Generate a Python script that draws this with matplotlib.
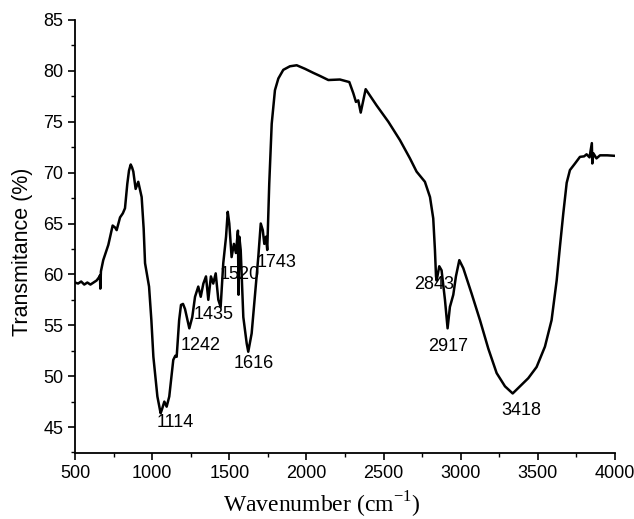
import matplotlib
matplotlib.use("Agg")
import matplotlib.pyplot as plt
from matplotlib.ticker import MultipleLocator

plt.rcParams['font.family'] = ['Liberation Sans', 'DejaVu Sans']
plt.rcParams['mathtext.fontset'] = 'custom'
plt.rcParams['mathtext.rm'] = 'Liberation Serif'

# FTIR spectrum
wavenumber = [500, 520, 540, 560, 580, 600, 620, 640, 655, 662, 664, 668, 683, 716, 744,
              760, 770, 792, 810, 824, 839, 850, 861, 870, 878, 893, 910, 932, 945, 954,
              980, 995, 1008, 1034, 1055, 1065, 1079, 1094, 1111, 1137, 1150, 1159, 1175,
              1187, 1200, 1213, 1241, 1260, 1278, 1299, 1315, 1332, 1349, 1364, 1381, 1396,
              1412, 1429, 1444, 1461, 1479, 1490, 1500, 1515, 1530, 1543, 1556, 1560, 1565,
              1574, 1591, 1613, 1623, 1645, 1667, 1688, 1704, 1717, 1727, 1738, 1746, 1759,
              1775, 1796, 1818, 1850, 1893, 1937, 1991, 2045, 2088, 2142, 2217, 2278, 2304,
              2321, 2336, 2352, 2384, 2455, 2531, 2606, 2671, 2714, 2768, 2801, 2822, 2833,
              2840, 2844, 2861, 2876, 2898, 2915, 2930, 2952, 2969, 2991, 3017, 3071, 3125,
              3179, 3233, 3287, 3337, 3384, 3438, 3492, 3546, 3589, 3622, 3643, 3665, 3687,
              3708, 3741, 3773, 3800, 3816, 3835, 3850, 3853, 3860, 3880, 3903, 3950, 4000]
transmittance = [59.2, 59.1, 59.3, 59.0, 59.2, 59.0, 59.2, 59.4, 59.7, 59.9, 58.6, 60.3, 61.4, 62.9, 64.8,
                 64.6, 64.35, 65.6, 66.0, 66.5, 68.9, 70.2, 70.8, 70.5, 70.1, 68.4, 69.1, 67.6, 64.5, 61.1,
                 58.8, 55.5, 51.9, 48.0, 46.35, 46.8, 47.5, 47.0, 48.0, 51.6, 52.0, 51.9, 55.5,
                 57.0, 57.1, 56.6, 54.7, 55.8, 57.8, 58.8, 57.8, 59.1, 59.8, 57.5, 59.8, 59.1,
                 60.1, 57.5, 56.8, 61.1, 63.7, 66.15, 65.0, 61.7, 63.0, 62.1, 64.3, 58.0, 63.7,
                 62.4, 55.8, 53.2, 52.4, 54.2, 58.1, 61.7, 65.0, 64.35, 63.0, 63.7, 62.4, 68.9,
                 74.8, 78.1, 79.25, 80.1, 80.45, 80.55, 80.2, 79.8, 79.5, 79.1, 79.15, 78.9, 77.8,
                 76.95, 77.1, 75.9, 78.2, 76.6, 75.0, 73.2, 71.4, 70.1, 69.1, 67.6, 65.5, 62.4,
                 59.8, 59.4, 60.8, 60.4, 57.5, 54.7, 56.8, 58.0, 59.8, 61.4, 60.6, 58.1, 55.5,
                 52.7, 50.3, 49.0, 48.3, 49.0, 49.8, 50.9, 52.9, 55.5, 59.4, 62.7, 66.0, 69.0,
                 70.25, 70.9, 71.55, 71.6, 71.8, 71.5, 72.9, 70.9, 71.9, 71.4, 71.7, 71.7, 71.65]

# peak labels and where they sit
peak_text = ['1114', '1242', '1435', '1520', '1743', '1616', '2843', '2917', '3418']
peak_x = [1148, 1317, 1401, 1569, 1809, 1660, 2827, 2917, 3391]
peak_y = [45.4, 53.05, 56.1, 60.0, 61.2, 51.2, 59.05, 52.95, 46.6]

fig = plt.figure(figsize=(6.34, 5.19), dpi=100)
ax = fig.add_axes([0.1183, 0.1272, 0.8517, 0.8343])

ax.plot(wavenumber, transmittance, color='black', lw=1.8)

for t, x, y in zip(peak_text, peak_x, peak_y):
    ax.text(x, y, t, ha='center', va='center', fontsize=13)

ax.set_xlim(500, 4000)
ax.set_ylim(42.45, 85)
ax.xaxis.set_major_locator(MultipleLocator(500))
ax.xaxis.set_minor_locator(MultipleLocator(250))
ax.yaxis.set_major_locator(MultipleLocator(5))
ax.yaxis.set_minor_locator(MultipleLocator(2.5))
ax.set_yticks(range(45, 90, 5))
ax.tick_params(which='major', direction='out', length=5, width=1.2, labelsize=13)
ax.tick_params(which='minor', direction='out', length=3, width=1)

for s in ['top', 'right']:
    ax.spines[s].set_visible(False)
for s in ['left', 'bottom']:
    ax.spines[s].set_linewidth(1.3)

ax.set_ylabel('Transmitance (%)', fontsize=15.5)
ax.yaxis.set_label_coords(-0.078, 0.464)
ax.set_xlabel(r'Wavenumber (cm$^{\mathrm{-1}}$)', fontsize=17, family='Liberation Serif')
ax.xaxis.set_label_coords(0.457, -0.085)

fig.savefig('out.png', dpi=100)
